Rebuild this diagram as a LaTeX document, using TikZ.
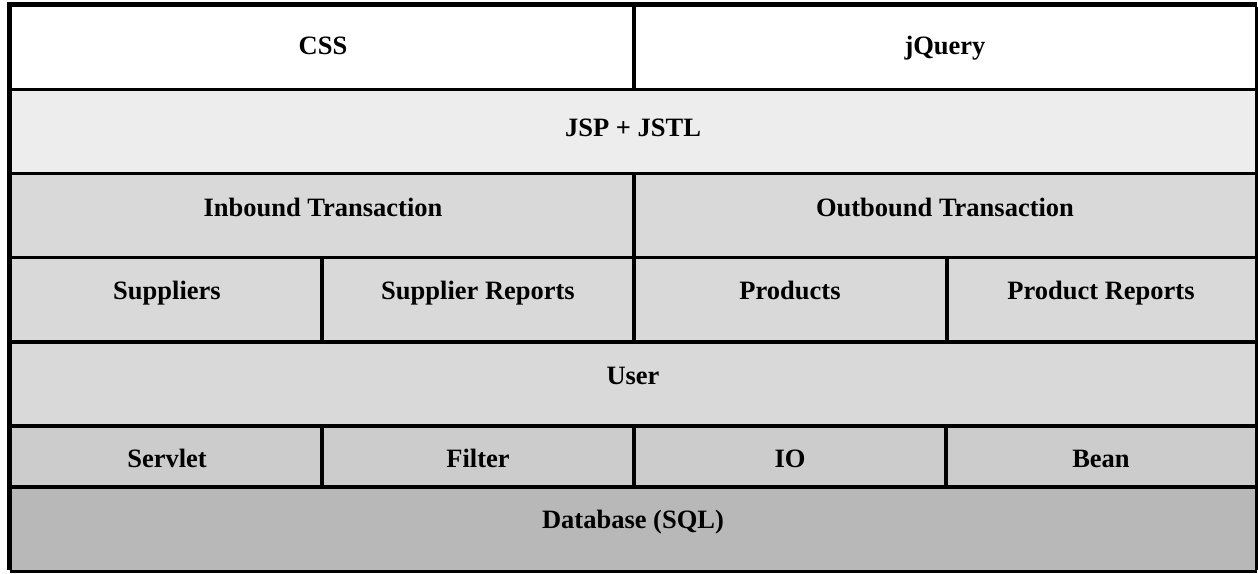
\documentclass[tikz,border=0pt]{standalone}
\usepackage{fontspec}
\setmainfont{Liberation Serif}
\begin{document}
\begin{tikzpicture}[x=1pt,y=-1pt,
  lbl/.style={font=\fontsize{26.5}{30}\selectfont\bfseries, anchor=base, inner sep=0pt},
  thin/.style={line width=3.3pt, draw=black},
  mid/.style={line width=4.5pt, draw=black},
  thick/.style={line width=5.5pt, draw=black}]
\useasboundingbox (0,0) rectangle (1258,573);
% fills
\fill[white] (9.5,4.5) rectangle (1256.5,89.5);
\fill[black!7] (9.5,89.5) rectangle (1256.5,173.5);
\fill[black!15] (9.5,173.5) rectangle (1256.5,426);
\fill[black!20] (9.5,426) rectangle (1256.5,487);
\fill[black!28] (9.5,487) rectangle (1256.5,571.5);
% coordinates
\coordinate (tl) at (9.5,4.5);
\coordinate (tr) at (1256.5,4.5);
\coordinate (bl) at (9.5,571.5);
\coordinate (br) at (1256.5,571.5);
\foreach \y/\n in {89.5/a,173.5/b,257.5/c,342/d,426/e,487/f}{
  \coordinate (L\n) at (9.5,\y);
  \coordinate (R\n) at (1256.5,\y);
  \draw[thin] (L\n) -- (R\n);
}
% vertical dividers
\coordinate (v1t) at (634,4.5);   \coordinate (v1b) at (634,89.5);
\coordinate (v2t) at (634,173.5); \coordinate (v2b) at (634,342);
\coordinate (v3t) at (322,257.5); \coordinate (v3b) at (322,342);
\coordinate (v4t) at (947,257.5); \coordinate (v4b) at (947,342);
\coordinate (v5t) at (322,426);   \coordinate (v5b) at (322,487);
\coordinate (v6t) at (634,426);   \coordinate (v6b) at (634,487);
\coordinate (v7t) at (946,426);   \coordinate (v7b) at (946,487);
\draw[thin] (v1t) -- (v1b);
\draw[mid] (v2t) -- (v2b);
\draw[mid] (v3t) -- (v3b);
\draw[mid] (v4t) -- (v4b);
\draw[mid,line width=4pt] (v5t) -- (v5b);
\draw[mid,line width=4pt] (v6t) -- (v6b);
\draw[mid,line width=4pt] (v7t) -- (v7b);
% outer border
\draw[thick] ([xshift=-2.75pt]tl) -- (tr);
\draw[thick] (tl) -- ([yshift=1.5pt]bl);
\draw[thin] (bl) -- (br);
\draw[line width=3pt] ([yshift=-2.75pt]tr) -- ([yshift=1.5pt]br);
% labels
\node[lbl] (css) at (323,54) {CSS};
\node[lbl] (jq) at (945,54) {jQuery};
\node[lbl] (jsp) at (633,136) {JSP + JSTL};
\node[lbl] (inb) at (323,216) {Inbound Transaction};
\node[lbl] (outb) at (945,216) {Outbound Transaction};
\node[lbl] (sup) at (167,299) {Suppliers};
\node[lbl] (supr) at (478,299) {Supplier Reports};
\node[lbl] (prod) at (790,299) {Products};
\node[lbl] (prodr) at (1101,299) {Product Reports};
\node[lbl] (user) at (633,384) {User};
\node[lbl] (serv) at (167,467) {Servlet};
\node[lbl] (filt) at (478,467) {Filter};
\node[lbl] (io) at (790,467) {IO};
\node[lbl] (bean) at (1101,467) {Bean};
\node[lbl] (db) at (633,528) {Database (SQL)};
\end{tikzpicture}
\end{document}
